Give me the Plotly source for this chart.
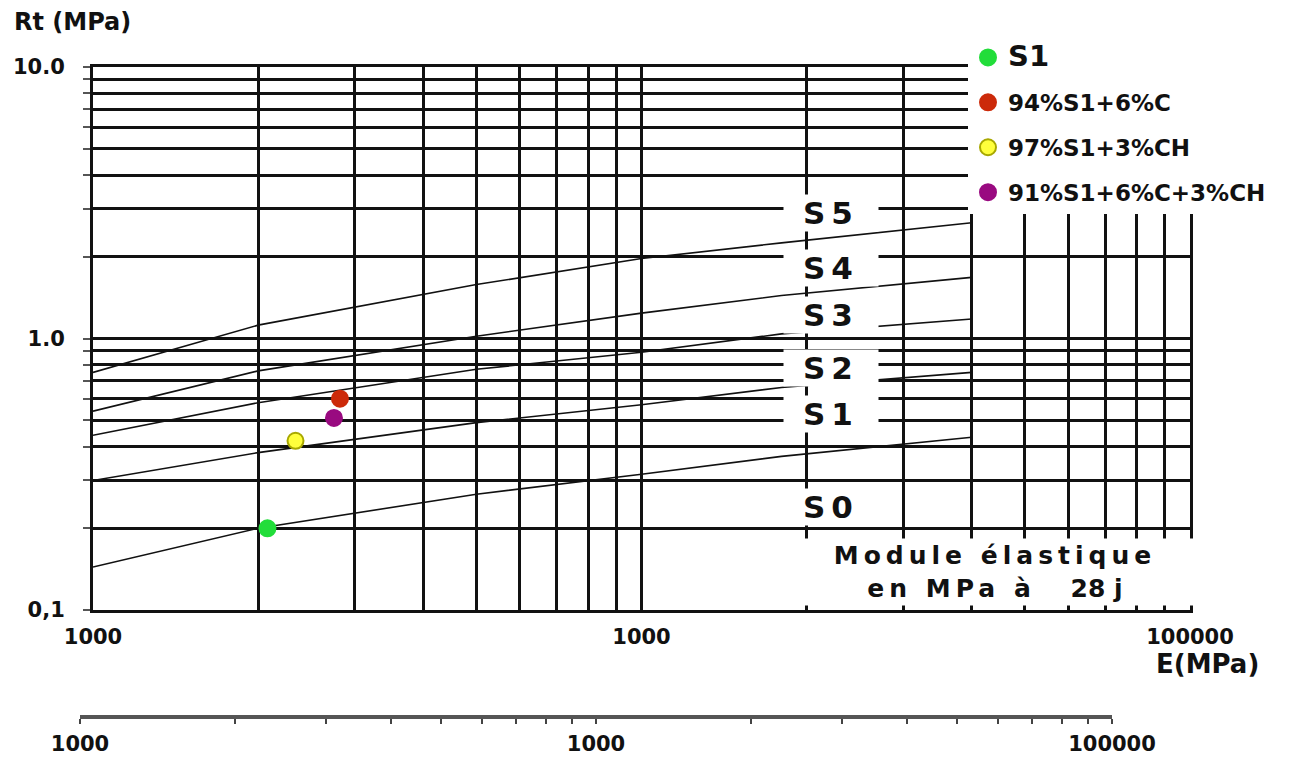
import numpy as np
import plotly.graph_objects as go

# boundary curves between the classes (Rt in MPa against E in MPa)
E_curve = [1000, 2000, 5000, 10000, 18000, 40000]
rt_s4_s5 = [0.75, 1.12, 1.58, 1.97, 2.25, 2.67]
rt_s3_s4 = [0.54, 0.76, 1.02, 1.24, 1.44, 1.68]
rt_s2_s3 = [0.44, 0.58, 0.77, 0.89, 1.04, 1.18]
rt_s1_s2 = [0.30, 0.38, 0.49, 0.57, 0.66, 0.75]
rt_s0_s1 = [0.144, 0.20, 0.267, 0.316, 0.368, 0.433]

# measured mixes
mix_names = ["S1", "94%S1+6%C", "97%S1+3%CH", "91%S1+6%C+3%CH"]
mix_E = [2080, 2820, 2340, 2750]
mix_Rt = [0.20, 0.60, 0.42, 0.51]
mix_colors = ["#22dd3a", "#cc2a0a", "#ffff3c", "#990a80"]
mix_edges = ["#22dd3a", "#cc2a0a", "#a8a800", "#990a80"]

class_labels = ["S5", "S4", "S3", "S2", "S1", "S0"]
class_label_Rt = [2.9, 1.82, 1.22, 0.78, 0.526, 0.239]
class_label_E = 22200

FONT = "DejaVu Sans"

fig = go.Figure()

for rt in [rt_s4_s5, rt_s3_s4, rt_s2_s3, rt_s1_s2, rt_s0_s1]:
    fig.add_trace(go.Scatter(x=E_curve, y=rt, mode="lines",
                             line=dict(color="#111111", width=1.6),
                             showlegend=False, hoverinfo="skip"))

for i, name in enumerate(mix_names):
    label = name
    if name == "S1":
        label = '<span style="font-size:29px">S1</span>'
    fig.add_trace(go.Scatter(
        x=[mix_E[i]], y=[mix_Rt[i]], mode="markers", name=label,
        legendgroup=name,
        marker=dict(size=16, color=mix_colors[i],
                    line=dict(color=mix_edges[i], width=2)),
    ))

# empty trace so the second (bottom) axis gets drawn
fig.add_trace(go.Scatter(x=[], y=[], xaxis="x2", yaxis="y2", showlegend=False))

x_ticks = [m * 10 ** d for d in (3, 4) for m in range(1, 10)] + [100000]
x_text = ["1000" if v in (1000, 10000) else ("100000" if v == 100000 else "")
          for v in x_ticks]
y_ticks = [m * 10 ** d for d in (-1, 0) for m in range(1, 10)] + [10]
y_text = []
for v in y_ticks:
    if v == 10:
        y_text.append("10.0")
    elif v == 1:
        y_text.append("1.0")
    elif abs(v - 0.1) < 1e-9:
        y_text.append("0,1")
    else:
        y_text.append("")

# page has an 8px body margin, so the figure is 16px smaller than the window
OFF = 8
W, H = 1308 - 2 * OFF, 767 - 2 * OFF
ml, mr, mt, mb = 62, 10, 52, 12
pw, ph = W - ml - mr, H - mt - mb


def px_x(p):
    return (p - OFF - ml) / pw


def px_y(p):
    return (H - mb - (p - OFF)) / ph


fig.update_layout(
    width=W, height=H,
    margin=dict(l=ml, r=mr, t=mt, b=mb, autoexpand=False),
    plot_bgcolor="white", paper_bgcolor="white",
    xaxis=dict(type="log", range=[3, 5], domain=[px_x(93), px_x(1190)],
               tickvals=x_ticks, ticktext=x_text, tickangle=0,
               showgrid=True, gridcolor="#111111", gridwidth=3,
               showline=True, linecolor="#111111", linewidth=3, mirror=True,
               ticks="", ticklabelstandoff=6,
               tickfont=dict(family=FONT, size=21, weight="bold", color="#111111")),
    yaxis=dict(type="log", range=[-1, 1], domain=[px_y(610), px_y(67)],
               tickvals=y_ticks, ticktext=y_text,
               showgrid=True, gridcolor="#111111", gridwidth=3,
               showline=True, linecolor="#111111", linewidth=3, mirror=True,
               ticks="outside", ticklen=7, tickcolor="#555555", tickwidth=2,
               ticklabelstandoff=14,
               tickfont=dict(family=FONT, size=21, weight="bold", color="#111111")),
    xaxis2=dict(type="log", range=[3, 5], domain=[px_x(80), px_x(1112)],
                anchor="y2",
                tickvals=x_ticks, ticktext=x_text, tickangle=0,
                showgrid=False, showline=True, linecolor="#555555", linewidth=4,
                ticks="outside", ticklen=5, tickcolor="#444444", tickwidth=1.5,
                ticklabelstandoff=2,
                tickfont=dict(family=FONT, size=21, weight="bold", color="#111111")),
    yaxis2=dict(domain=[px_y(715), px_y(705)], visible=False, range=[0, 1]),
    legend=dict(x=px_x(968), y=px_y(36), xanchor="left", yanchor="top",
                bgcolor="white", borderwidth=0, tracegroupgap=12,
                font=dict(family=FONT, size=23, weight="bold", color="#111111")),
    showlegend=True,
)

for lab, rt in zip(class_labels, class_label_Rt):
    fig.add_annotation(
        x=np.log10(class_label_E), y=np.log10(rt), xref="x", yref="y",
        xanchor="center", yanchor="middle",
        text='<span style="letter-spacing:6px">%s</span>' % lab,
        showarrow=False, bgcolor="white", width=92, height=34,
        font=dict(family=FONT, size=31, weight="bold", color="#111111"),
    )

fig.add_annotation(
    x=px_x(995), y=px_y(572), xref="paper", yref="paper",
    xanchor="center", yanchor="middle",
    text='<span style="letter-spacing:5px">Module élastique</span><br>'
         '<span style="letter-spacing:5px">en MPa à</span>\u00a0\u00a0\u00a0\u00a028 j',
    showarrow=False, bgcolor="white", width=398, height=64, align="center",
    font=dict(family=FONT, size=25, weight="bold", color="#111111"),
)

fig.add_annotation(
    x=px_x(12), y=px_y(22), xref="paper", yref="paper",
    xanchor="left", yanchor="middle",
    text="Rt (MPa)", showarrow=False,
    font=dict(family=FONT, size=24, weight="bold", color="#111111"),
)
fig.add_annotation(
    x=px_x(1207), y=px_y(664), xref="paper", yref="paper",
    xanchor="center", yanchor="middle",
    text="E(MPa)", showarrow=False,
    font=dict(family=FONT, size=26, weight="bold", color="#111111"),
)

fig.write_html("out.html")
